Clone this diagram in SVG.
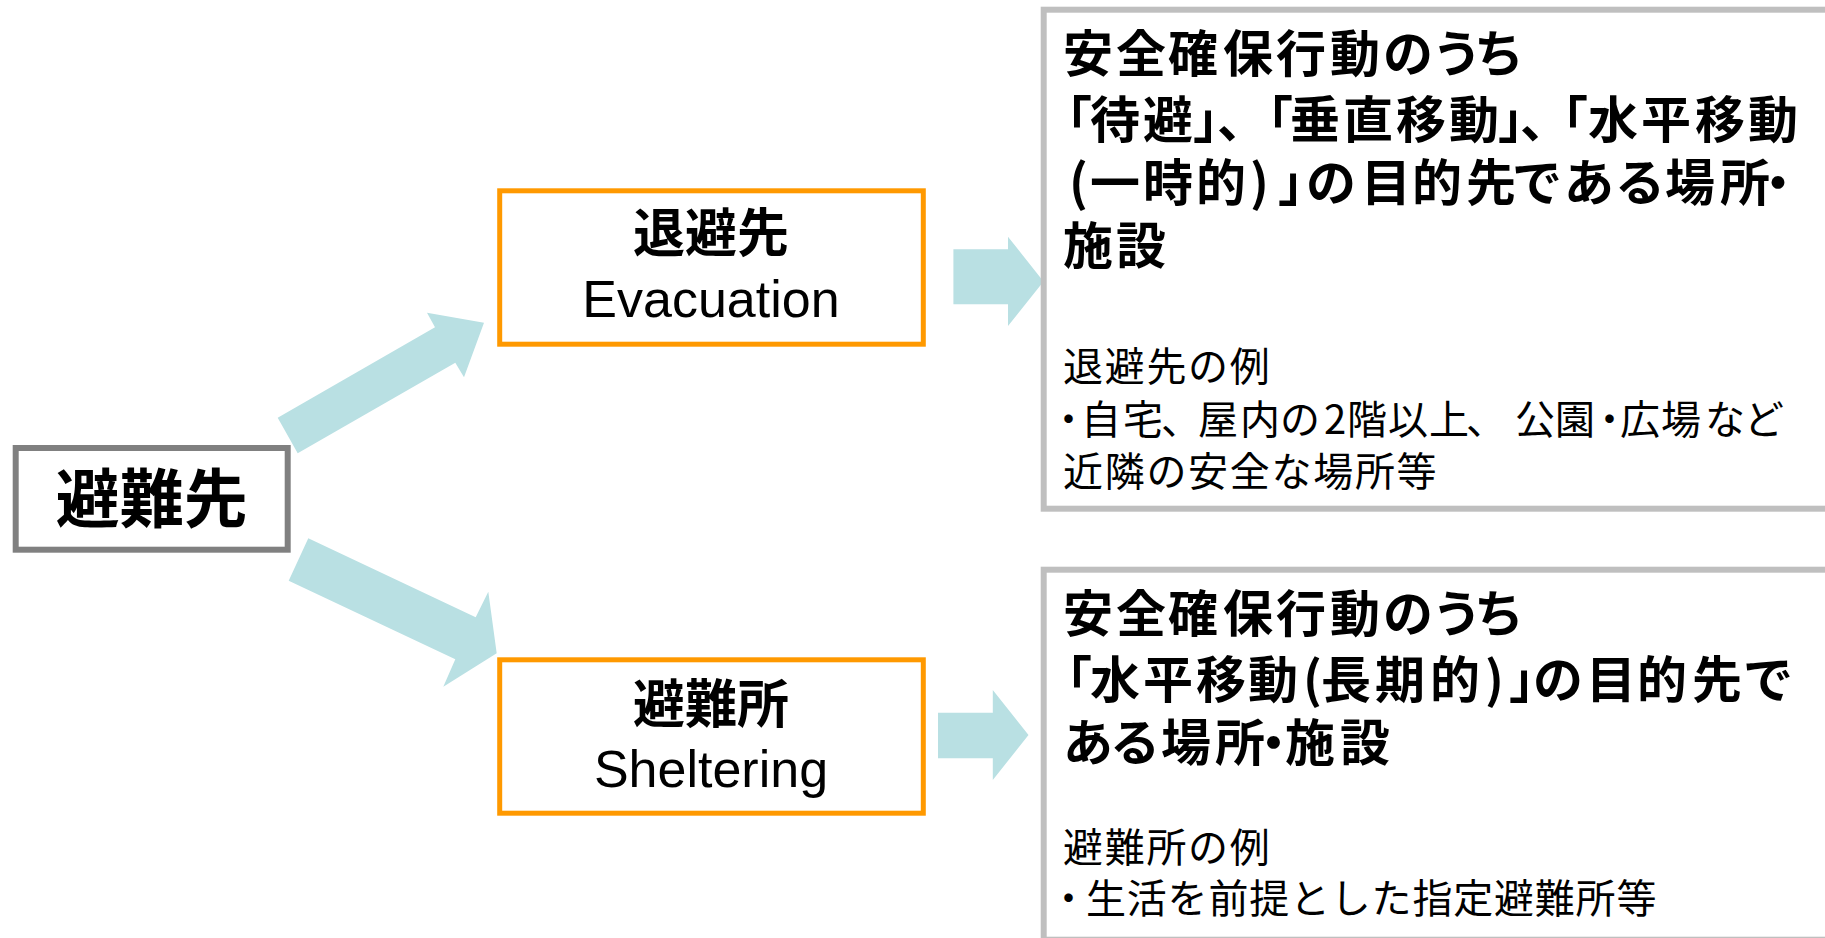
<svg xmlns="http://www.w3.org/2000/svg" width="1825" height="938" viewBox="0 0 1825 938">
<style>
.jp{font-family:"Noto Sans CJK JP","Noto Sans CJK SC",sans-serif;fill:#000}
.en{font-family:"Liberation Sans",Arial,sans-serif;fill:#000}
.b{font-weight:bold}
.title{font-size:50px;font-weight:bold}
.body{font-size:40px;font-weight:normal}
.gbox{fill:#fff;stroke:#BFBFBF;stroke-width:6}
.obox{fill:#fff;stroke:#FF9900;stroke-width:5}
.arrow{fill:#B9E0E3;stroke:none}
</style>
<rect width="1825" height="938" fill="#fff"/>
<g id="connectors">
<polygon class="arrow" points="277.7,417.7 435,327.3 427,312.7 484,322.7 464,377.3 455.3,362.7 297.7,453.3"/>
<polygon class="arrow" points="308.3,538.3 475.7,617.3 488.3,591.7 496.7,653.3 443.3,686.7 455.3,659.3 288.7,580.7"/>
<polygon class="arrow" points="953.4,249.3 1008,249.3 1008,236.7 1043.5,281.5 1008,326 1008,304.3 953.4,304.3"/>
<polygon class="arrow" points="938,712.7 992.8,712.7 992.8,690 1028.5,735 992.8,780 992.8,758.3 938,758.3"/>
</g>
<g id="node-hinansaki">
<rect x="15.7" y="448" width="272" height="101.7" fill="#fff" stroke="#808080" stroke-width="6"/>
<text class="jp b" x="151.7" y="522" font-size="64" text-anchor="middle">避難先</text>
</g>
<g id="node-taihisaki">
<rect class="obox" x="499.7" y="190.8" width="423.6" height="153.4"/>
<text class="jp b" x="711" y="252" font-size="52" text-anchor="middle">退避先</text>
<text class="en" x="711" y="317" font-size="52" text-anchor="middle">Evacuation</text>
</g>
<g id="node-hinanjo">
<rect class="obox" x="499.7" y="659.8" width="423.6" height="153.4"/>
<text class="jp b" x="711" y="723" font-size="52" text-anchor="middle">避難所</text>
<text class="en" x="711" y="787" font-size="52" text-anchor="middle">Sheltering</text>
</g>
<g id="node-taihisaki-desc">
<rect class="gbox" x="1043.7" y="9.7" width="800" height="499"/>
<text class="jp title" x="1063 1116 1168 1223 1276 1330 1383 1432 1474" y="72">安全確保行動のうち</text>
<text class="jp title" x="1042 1090 1143 1193 1217 1243 1290 1343 1396 1449 1498 1520 1538 1588 1641 1695 1748" y="138">「待避」、「垂直移動」、「水平移動</text>
<text class="jp title" x="1069 1090 1143 1196 1250 1278 1306 1361 1412 1466 1512 1564 1615 1665 1720 1753" y="201">(一時的)」の目的先である場所・</text>
<text class="jp title" x="1063" y="264" letter-spacing="3">施設</text>
<text class="jp body" x="1063" y="381" letter-spacing="1.7">退避先の例</text>
<text class="jp body" x="1048.5 1081 1123 1161 1198 1240 1280 1324 1347 1388 1429 1466 1515 1555 1589.5 1620 1661 1705 1744" y="434">・自宅、屋内の2階以上、公園・広場など</text>
<text class="jp body" x="1063" y="486" letter-spacing="1.7">近隣の安全な場所等</text>
</g>
<g id="node-hinanjo-desc">
<rect class="gbox" x="1043.7" y="569.7" width="800" height="370"/>
<text class="jp title" x="1063 1116 1168 1223 1276 1330 1383 1432 1474" y="632">安全確保行動のうち</text>
<text class="jp title" x="1042 1090 1143 1196 1248 1303 1321 1375 1430 1485 1509 1533 1586 1637 1692 1743" y="698">「水平移動(長期的)」の目的先で</text>
<text class="jp title" x="1063 1110 1161 1215 1248.5 1285 1340" y="761">ある場所・施設</text>
<text class="jp body" x="1063" y="862" letter-spacing="1.7">避難所の例</text>
<text class="jp body" x="1048.5" y="913">・</text>
<text class="jp body" x="1086" y="913" letter-spacing="0.8">生活を前提とした指定避難所等</text>
</g>
</svg>
